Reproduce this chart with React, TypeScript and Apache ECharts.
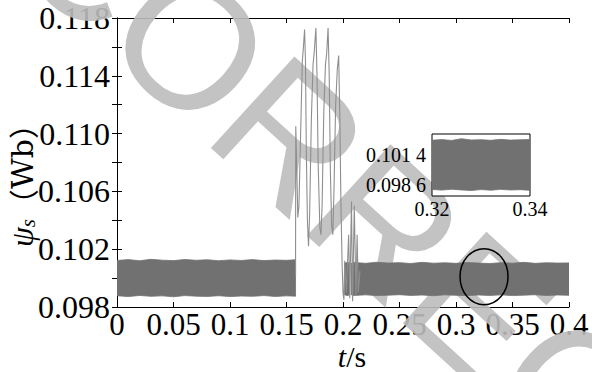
import React, { useEffect, useRef } from "react";
import * as echarts from "echarts";

// ---- data ----
const xTicks = [0, 0.05, 0.1, 0.15, 0.2, 0.25, 0.3, 0.35, 0.4];
const yTicks = [0.098, 0.102, 0.106, 0.11, 0.114, 0.118];

// steady-state band before the disturbance (envelope of the ripple)
const preT = [0, 0.01, 0.02, 0.03, 0.04, 0.05, 0.06, 0.07, 0.08, 0.09, 0.1, 0.11, 0.12, 0.13, 0.14, 0.15, 0.158];
const preUpper = [0.10122, 0.10128, 0.1012, 0.1013, 0.10124, 0.10121, 0.10129, 0.10123, 0.10127, 0.1012, 0.10126, 0.10122, 0.10128, 0.10121, 0.10125, 0.10123, 0.10127];
const preLower = [0.09878, 0.09872, 0.0988, 0.09874, 0.09877, 0.09871, 0.09879, 0.09875, 0.09873, 0.09878, 0.09872, 0.09876, 0.09874, 0.09879, 0.09873, 0.09877, 0.09875];

// steady-state band after the disturbance
const postAT = [0.2015, 0.2035, 0.206];
const postAUpper = [0.10102, 0.10108, 0.10104];
const postALower = [0.09884, 0.0988, 0.09883];
const postT = [0.2075, 0.21, 0.22, 0.23, 0.24, 0.25, 0.26, 0.27, 0.28, 0.29, 0.3, 0.31, 0.32, 0.33, 0.34, 0.35, 0.36, 0.37, 0.38, 0.39, 0.4];
const postUpper = [0.10104, 0.10108, 0.10102, 0.1011, 0.10104, 0.10107, 0.10101, 0.10109, 0.10103, 0.10106, 0.10102, 0.10108, 0.10104, 0.10101, 0.10107, 0.10103, 0.10109, 0.10102, 0.10106, 0.10104, 0.10105];
const postLower = [0.09883, 0.0988, 0.09884, 0.09879, 0.09882, 0.09885, 0.0988, 0.09883, 0.09878, 0.09884, 0.09881, 0.09879, 0.09883, 0.0988, 0.09884, 0.09879, 0.09882, 0.09885, 0.0988, 0.09883, 0.09881];

// transient oscillation during the disturbance
const transT = [0.158, 0.1582, 0.159, 0.16, 0.161, 0.1625, 0.164, 0.165, 0.166, 0.1668, 0.1675, 0.1685, 0.1695, 0.1705, 0.172, 0.1735, 0.1745, 0.176, 0.177, 0.178, 0.1795, 0.1805, 0.1815, 0.183, 0.1845, 0.1855, 0.1868, 0.1878, 0.1888, 0.19, 0.191, 0.192, 0.1935, 0.195, 0.1962, 0.1972, 0.1982, 0.1992, 0.2, 0.2008, 0.2015, 0.203, 0.205, 0.206, 0.2075, 0.2085, 0.21, 0.2115, 0.2125, 0.2135, 0.215];
const transV = [0.1002, 0.1105, 0.108, 0.1042, 0.105, 0.11, 0.115, 0.116, 0.1172, 0.115, 0.109, 0.104, 0.1022, 0.1045, 0.111, 0.1148, 0.1156, 0.1173, 0.114, 0.108, 0.1035, 0.103, 0.105, 0.1115, 0.1148, 0.1155, 0.1173, 0.114, 0.1075, 0.1036, 0.103, 0.106, 0.112, 0.1145, 0.1154, 0.111, 0.105, 0.101, 0.099, 0.0985, 0.1012, 0.099, 0.103, 0.0986, 0.1053, 0.0984, 0.105, 0.0988, 0.103, 0.099, 0.1005];

// inset (zoom of 0.32–0.34 s)
const insetT = [0.32, 0.322, 0.324, 0.326, 0.328, 0.33, 0.332, 0.334, 0.336, 0.338, 0.34];
const insetUpper = [0.10278, 0.10284, 0.10276, 0.10292, 0.1028, 0.10283, 0.10277, 0.10286, 0.10279, 0.10282, 0.10285];
const insetLower = [0.09818, 0.09812, 0.0982, 0.09814, 0.09808, 0.09817, 0.09811, 0.09819, 0.09813, 0.09816, 0.0981];
const insetYLabels = [0.0986, 0.1014];
const insetXLabels = [0.32, 0.34];

// highlighted region (circle annotation)
const circleCenter = [0.3248, 0.1001];

const SERIF = "Liberation Serif";
const BAND = "#717171";

// band drawn as a polygon through the axis scales (custom series)
function bandSeries(name: string, t: number[], up: number[], lo: number[], xi = 0, yi = 0, z = 2) {
  return {
    type: "custom",
    name,
    xAxisIndex: xi,
    yAxisIndex: yi,
    silent: true,
    z,
    clip: true,
    data: t.map((x, i) => [x, lo[i], up[i]]),
    encode: { x: 0, y: [1, 2] },
    renderItem: (params: any, api: any) => {
      if (params.dataIndex !== 0) return null;
      const top = t.map((x, i) => api.coord([x, up[i]]));
      const bot = t.map((x, i) => api.coord([x, lo[i]])).reverse();
      return {
        type: "polygon",
        shape: { points: top.concat(bot) },
        style: { fill: BAND, stroke: BAND, lineWidth: 0.8 },
      };
    },
  };
}

export default function App() {
  const ref = useRef<HTMLDivElement>(null);
  useEffect(() => {
    if (!ref.current) return;
    const chart = echarts.init(ref.current, undefined, { renderer: "svg" });
    const mainX = {
      type: "value",
      min: 0,
      max: 0.4,
      interval: 0.05,
      gridIndex: 0,
      splitLine: { show: false },
      axisLine: { lineStyle: { color: "#000", width: 1 } },
      axisTick: { inside: true, length: 5, lineStyle: { color: "#000" } },
    };
    const mainY = {
      type: "value",
      min: 0.098,
      max: 0.118,
      interval: 0.004,
      gridIndex: 0,
      splitLine: { show: false },
      minorSplitLine: { show: false },
      axisLine: { show: true, lineStyle: { color: "#000", width: 1 } },
      axisTick: { inside: true, length: 5, lineStyle: { color: "#000" } },
      minorTick: { show: true, splitNumber: 2, length: 5, lineStyle: { color: "#000" } },
    };
    chart.setOption({
      animation: false,
      backgroundColor: "#fff",
      grid: [
        { left: 117, right: 23, top: 18, bottom: 65, show: false },
        { left: 432, top: 134, width: 98, height: 62, show: true, borderColor: "#000", borderWidth: 1, backgroundColor: "#fff", z: 5 },
      ],
      xAxis: [
        {
          ...mainX,
          position: "bottom",
          axisLabel: {
            fontFamily: SERIF,
            fontSize: 31,
            lineHeight: 30,
            color: "#000",
            margin: 2,
            showMinLabel: true,
            showMaxLabel: true,
            formatter: (v: number) => (xTicks.includes(+v.toFixed(2)) ? String(+v.toFixed(2)) : ""),
          },
        },
        { ...mainX, position: "top", axisLabel: { show: false } },
        {
          type: "value",
          gridIndex: 1,
          min: 0.32,
          max: 0.34,
          splitLine: { show: false },
          axisLine: { show: false },
          axisTick: { show: false },
          axisLabel: {
            customValues: insetXLabels,
            fontFamily: SERIF,
            fontSize: 20,
            color: "#000",
            margin: 3,
            formatter: (v: number) => v.toFixed(2),
          },
          z: 5,
        },
      ],
      yAxis: [
        {
          ...mainY,
          position: "left",
          axisLabel: {
            fontFamily: SERIF,
            fontSize: 32,
            color: "#000",
            margin: 7,
            padding: [6, 0, 0, 0],
            showMinLabel: true,
            showMaxLabel: true,
            formatter: (v: number) => (yTicks.includes(+v.toFixed(3)) ? v.toFixed(3) : ""),
          },
        },
        { ...mainY, position: "right", axisLabel: { show: false } },
        {
          type: "value",
          gridIndex: 1,
          min: 0.09757,
          max: 0.10336,
          splitLine: { show: false },
          axisLine: { show: false },
          axisTick: { show: false },
          axisLabel: {
            customValues: insetYLabels,
            fontFamily: SERIF,
            fontSize: 20,
            color: "#000",
            margin: 6,
            formatter: (v: number) => {
              const s = v.toFixed(4);
              return s.slice(0, 5) + " " + s.slice(5);
            },
          },
          z: 5,
        },
      ],
      series: [
        bandSeries("pre", preT, preUpper, preLower),
        bandSeries("postA", postAT, postAUpper, postALower),
        bandSeries("post", postT, postUpper, postLower),
        {
          type: "line",
          name: "transient",
          symbol: "none",
          data: transT.map((t, i) => [t, transV[i]]),
          lineStyle: { color: "#8e8e8e", width: 1.1 },
          z: 3,
        },
        bandSeries("inset", insetT, insetUpper, insetLower, 2, 2, 6),
      ],
    });

    const c = chart.convertToPixel({ xAxisIndex: 0, yAxisIndex: 0 }, circleCenter) as number[];
    chart.setOption({
      graphic: [
        {
          type: "text",
          x: 43,
          y: -90,
          rotation: -0.74,
          style: {
            text: "CORRECTED",
            fontFamily: "Liberation Sans",
            fontSize: 180,
            fill: "#bcbcbc",
            opacity: 0.9,
            textAlign: "left",
            textVerticalAlign: "middle",
          },
          z: 1,
          silent: true,
        },
        {
          type: "ellipse",
          shape: { cx: c[0], cy: c[1], rx: 24, ry: 28 },
          style: { fill: "none", stroke: "#000", lineWidth: 1.5 },
          z: 30,
        },
        {
          type: "text",
          x: 22,
          y: 178,
          rotation: Math.PI / 2,
          style: {
            text: "{i|ψ}{s|s}{p|（}{w|Wb}{p|）}",
            textAlign: "center",
            textVerticalAlign: "middle",
            rich: {
              i: { fontFamily: SERIF, fontStyle: "italic", fontSize: 32, fill: "#000" },
              s: { fontFamily: SERIF, fontStyle: "italic", fontSize: 21, fill: "#000", padding: [12, 0, 0, 0] },
              p: { fontFamily: "Noto Sans CJK SC", fontSize: 30, fill: "#000" },
              w: { fontFamily: "DejaVu Serif", fontSize: 30, fill: "#000" },
            },
          },
          z: 30,
        },
        {
          type: "text",
          x: 352,
          y: 356,
          style: {
            text: "{i|t}{n|/s}",
            textAlign: "center",
            textVerticalAlign: "middle",
            rich: {
              i: { fontFamily: SERIF, fontStyle: "italic", fontSize: 30, lineHeight: 26, fill: "#000" },
              n: { fontFamily: SERIF, fontSize: 30, lineHeight: 26, fill: "#000" },
            },
          },
          z: 30,
        },
      ],
    });
    return () => chart.dispose();
  }, []);
  return <div ref={ref} style={{ position: "absolute", left: 0, top: 0, width: 592, height: 372 }} />;
}
